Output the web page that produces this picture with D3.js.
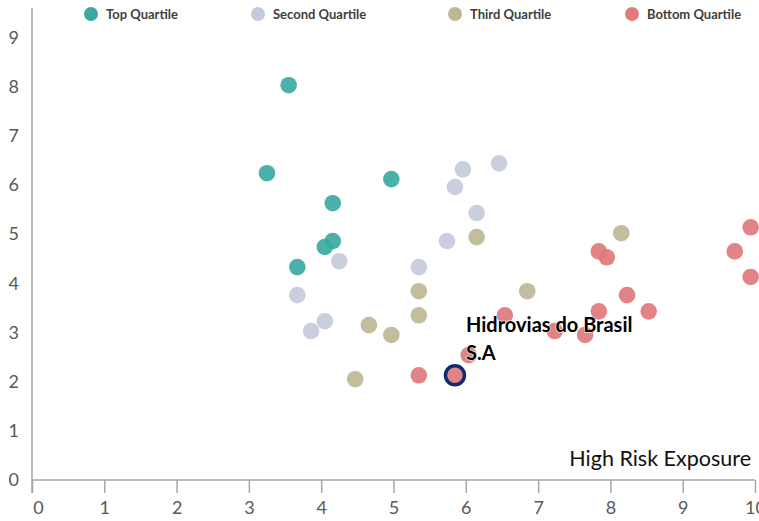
<!DOCTYPE html>
<html>
<head>
<meta charset="utf-8">
<script src="https://cdn.jsdelivr.net/npm/d3@7"></script>
<style>
  html, body { margin: 0; padding: 0; background: #fff; }
  svg { display: block; }
</style>
</head>
<body>
<svg id="chart" width="759" height="521"></svg>
<script>
// Quartile groups and their points: [exposure, score]
const quartiles = ["Top Quartile", "Second Quartile", "Third Quartile", "Bottom Quartile"];
const quartileColors = ["#3aaa9f", "#c4cbdb", "#bdb795", "#e07a7c"];

const topQuartile = [
  [3.55, 8.03], [3.25, 6.24], [4.97, 6.12], [4.16, 5.63],
  [4.16, 4.86], [4.05, 4.74], [3.67, 4.33]
];
const secondQuartile = [
  [6.46, 6.44], [5.96, 6.32], [5.85, 5.96], [6.15, 5.43], [5.74, 4.86],
  [4.25, 4.45], [5.35, 4.33], [3.67, 3.76], [4.05, 3.23], [3.86, 3.03]
];
const thirdQuartile = [
  [6.15, 4.94], [8.15, 5.02], [6.85, 3.84], [5.35, 3.84],
  [5.35, 3.35], [4.66, 3.15], [4.97, 2.95], [4.47, 2.05]
];
const bottomQuartile = [
  [9.94, 5.14], [9.72, 4.65], [9.94, 4.13], [7.84, 4.65], [7.95, 4.53],
  [8.23, 3.76], [7.84, 3.43], [8.53, 3.43], [6.54, 3.35], [7.23, 3.03],
  [7.65, 2.95], [6.04, 2.54], [5.35, 2.13], [5.85, 2.13]
];
const seriesPoints = [topQuartile, secondQuartile, thirdQuartile, bottomQuartile];

// Highlighted company
const highlightName = ["Hidrovias do Brasil", "S.A"];
const highlightPoint = [5.85, 2.13];

const xTicks = [0, 1, 2, 3, 4, 5, 6, 7, 8, 9, 10];
const yTicks = [0, 1, 2, 3, 4, 5, 6, 7, 8, 9];
const xTitle = "High Risk Exposure";

const svg = d3.select("#chart");
const axisColor = "#a6a6a6";
const labelColor = "#595959";
const font = "Lato, 'Open Sans', sans-serif";

const x = d3.scaleLinear().domain([0, 10]).range([32, 755]);
const y = d3.scaleLinear().domain([0, 9.6]).range([480, 8]);

// X axis with downward ticks
const xAxis = svg.append("g")
  .attr("transform", `translate(0,${y(0)})`)
  .call(d3.axisBottom(x).tickValues(xTicks).tickSize(13).tickPadding(8).tickFormat(d3.format("d")));
xAxis.select(".domain").attr("stroke", axisColor).attr("stroke-width", 1.5)
  .attr("d", `M${x(0)},0H${x(10)}`);
xAxis.selectAll(".tick line").attr("stroke", axisColor).attr("stroke-width", 1.5);
xAxis.selectAll(".tick text")
  .attr("fill", labelColor).attr("font-family", font).attr("font-size", 18)
  .attr("dx", d => d === 0 ? 6 : 0);

// Y axis: line only, labels on the left
const yAxis = svg.append("g")
  .attr("transform", `translate(${x(0)},0)`)
  .call(d3.axisLeft(y).tickValues(yTicks).tickSize(0).tickPadding(13).tickFormat(d3.format("d")));
yAxis.select(".domain").attr("stroke", axisColor).attr("stroke-width", 1.5)
  .attr("d", `M0,${y(9.6)}V${y(0) + 13}`);
yAxis.selectAll(".tick text")
  .attr("fill", labelColor).attr("font-family", font).attr("font-size", 18);

// Points
seriesPoints.forEach((pts, i) => {
  svg.append("g").selectAll("circle")
    .data(pts)
    .join("circle")
    .attr("cx", d => x(d[0]))
    .attr("cy", d => y(d[1]))
    .attr("r", 8.3)
    .attr("fill", quartileColors[i])
    .attr("fill-opacity", 0.92);
});

// Highlight ring
svg.append("circle")
  .attr("cx", x(highlightPoint[0]))
  .attr("cy", y(highlightPoint[1]))
  .attr("r", 9.5)
  .attr("fill", "none")
  .attr("stroke", "#0f2d6b")
  .attr("stroke-width", 3.5);

// Company label
const lbl = svg.append("text")
  .attr("x", x(highlightPoint[0]) + 11)
  .attr("y", y(highlightPoint[1]) - 43)
  .attr("font-family", font).attr("font-weight", "bold").attr("font-size", 20)
  .attr("fill", "#000")
  .attr("stroke", "#fff").attr("stroke-width", 1.2).attr("paint-order", "stroke");
highlightName.forEach((t, i) => {
  lbl.append("tspan").attr("x", x(highlightPoint[0]) + 11).attr("dy", i === 0 ? 0 : 28).text(t);
});

// Axis title
svg.append("text")
  .attr("x", 751).attr("y", 466)
  .attr("text-anchor", "end")
  .attr("font-family", font).attr("font-size", 21.5)
  .attr("fill", "#111")
  .text(xTitle);

// Legend
const legendX = [91, 258, 455, 632];
const legend = svg.append("g");
quartiles.forEach((q, i) => {
  const g = legend.append("g").attr("transform", `translate(${legendX[i]},14)`);
  g.append("circle").attr("r", 7).attr("fill", quartileColors[i]);
  g.append("text").attr("x", 15).attr("y", 4.5)
    .attr("font-family", font).attr("font-weight", "bold").attr("font-size", 13)
    .attr("fill", "#404040").text(q);
});
</script>
</body>
</html>
